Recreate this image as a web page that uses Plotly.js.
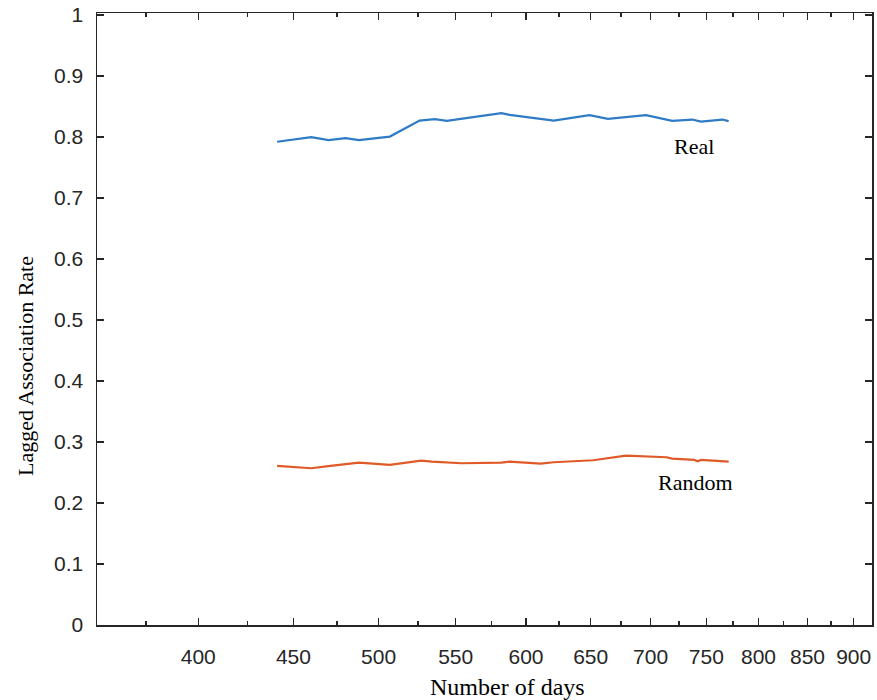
<!DOCTYPE html>
<html>
<head>
<meta charset="utf-8">
<script src="https://cdn.plot.ly/plotly-3.0.1.min.js"></script>
<style>html,body{margin:0;padding:0;background:#fff;}#chart{width:877px;height:700px;}</style>
</head>
<body>
<div id="chart"></div>
<script>
// Data
const realDays = [441, 460, 470, 480, 488, 507, 526, 536, 544, 582, 588, 621, 649, 664, 696, 719, 737, 745, 765, 771];
const realRate = [0.792, 0.7995, 0.7946, 0.7979, 0.7946, 0.8005, 0.8267, 0.829, 0.8262, 0.8389, 0.836, 0.8267, 0.8356, 0.8295, 0.8356, 0.8262, 0.8284, 0.8251, 0.8284, 0.8257];
const randomDays = [441, 460, 471, 488, 507, 527, 534, 554, 582, 588, 611, 621, 652, 679, 714, 719, 739, 742, 745, 771];
const randomRate = [0.2607, 0.2569, 0.2607, 0.2661, 0.2623, 0.2693, 0.2677, 0.2651, 0.2661, 0.2677, 0.2644, 0.2667, 0.27, 0.2775, 0.2749, 0.2726, 0.2705, 0.2684, 0.2705, 0.2677];
const xTicks = [400, 450, 500, 550, 600, 650, 700, 750, 800, 850, 900];
const xMinorTicks = [375, 425, 475, 525, 575, 625, 675, 725, 775, 825, 875];
const yTicks = [0, 0.1, 0.2, 0.3, 0.4, 0.5, 0.6, 0.7, 0.8, 0.9, 1];
const seriesLabels = ["Real", "Random"];
const xTitle = 'Number of days';
const yTitle = 'Lagged Association Rate';

const axisColor = '#262626';
const tickFont = {family: 'Liberation Sans, Arial, sans-serif', size: 21, color: axisColor};
const serifFont = {family: 'Liberation Serif, Times New Roman, serif', size: 22, color: '#000'};
const xTitleFont = {family: 'Liberation Serif, Times New Roman, serif', size: 24, color: '#000'};

const traces = [
  {x: realDays, y: realRate, type: 'scatter', mode: 'lines', name: seriesLabels[0],
   line: {color: '#2F7BC5', width: 2.2}},
  {x: randomDays, y: randomRate, type: 'scatter', mode: 'lines', name: seriesLabels[1],
   line: {color: '#E05A28', width: 2.2}}
];

const layout = {
  width: 877, height: 700,
  margin: {l: 97, r: 5, t: 13, b: 75},
  paper_bgcolor: '#fff', plot_bgcolor: '#fff',
  showlegend: false,
  xaxis: {
    type: 'log',
    range: [Math.log10(352.9), Math.log10(920.6)],
    tickvals: xTicks, ticktext: xTicks.map(String),
    ticks: 'inside', ticklen: 7, tickwidth: 1.5, tickcolor: axisColor,
    minor: {tickvals: xMinorTicks, ticks: 'inside', ticklen: 4, tickwidth: 1.5, tickcolor: axisColor, showgrid: false},
    showline: true, linecolor: axisColor, linewidth: 1.5, mirror: 'ticks',
    showgrid: false, zeroline: false,
    tickfont: tickFont, ticklabelstandoff: 12
  },
  yaxis: {
    range: [0, 1.003],
    tickvals: yTicks, ticktext: yTicks.map(v => v === 0 ? '0' : v === 1 ? '1' : v.toFixed(1)),
    ticks: 'inside', ticklen: 7, tickwidth: 1.5, tickcolor: axisColor,
    showline: true, linecolor: axisColor, linewidth: 1.5, mirror: 'ticks',
    showgrid: false, zeroline: false,
    tickfont: tickFont, ticklabelstandoff: 8
  },
  annotations: [
    {x: Math.log10(739), y: 0.7836, xref: 'x', yref: 'y', text: seriesLabels[0], showarrow: false, font: serifFont},
    {x: Math.log10(740), y: 0.2328, xref: 'x', yref: 'y', text: seriesLabels[1], showarrow: false, font: serifFont},
    {x: 0.5303, y: -0.1013, xref: 'paper', yref: 'paper', text: xTitle, showarrow: false, font: xTitleFont,
     xanchor: 'center', yanchor: 'middle'},
    {x: -0.0929, y: 0.4232, xref: 'paper', yref: 'paper', text: yTitle, showarrow: false, font: serifFont,
     textangle: -90, xanchor: 'center', yanchor: 'middle'}
  ]
};

Plotly.newPlot('chart', traces, layout, {displayModeBar: false, staticPlot: true});
</script>
</body>
</html>
